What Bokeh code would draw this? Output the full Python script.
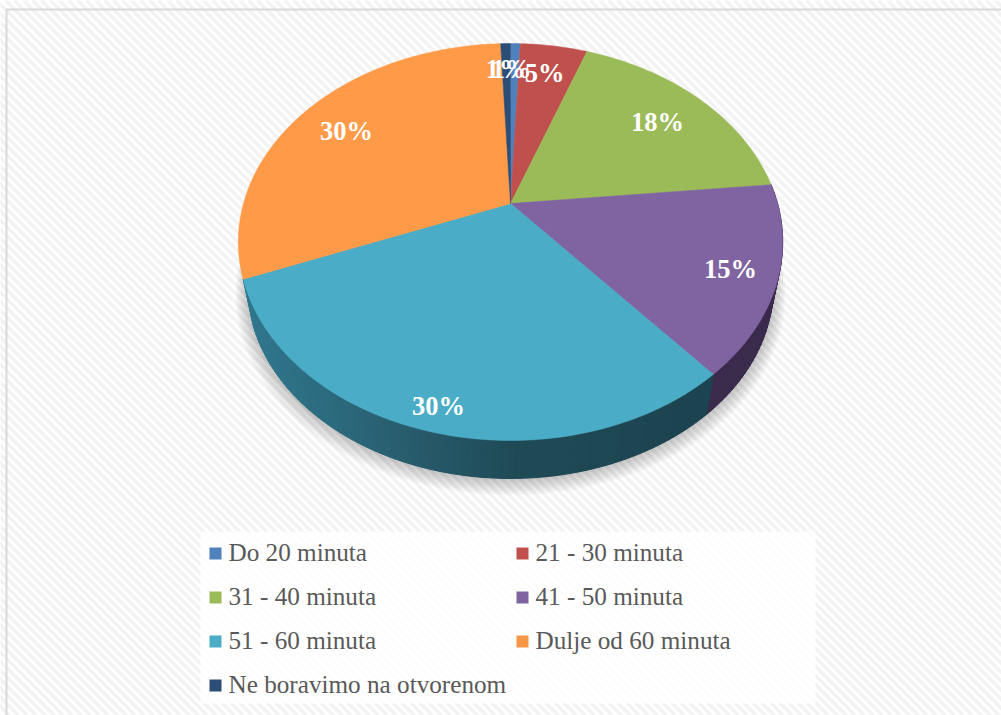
import numpy as np
from bokeh.plotting import figure
from bokeh.models import Range1d
from bokeh.core.properties import value
from bokeh.embed import file_html
from bokeh.resources import INLINE

# ---- data (clockwise from 12 o'clock)
categories = ["Do 20 minuta", "21 - 30 minuta", "31 - 40 minuta", "41 - 50 minuta",
              "51 - 60 minuta", "Dulje od 60 minuta", "Ne boravimo na otvorenom"]
shares = [0.7, 4.8, 17.9, 15.4, 30.2, 30.3, 0.7]
slice_colors = ["#4F81BD", "#C0504D", "#9BBB59", "#8064A2", "#4AACC6", "#FF9B48", "#2C4D75"]
swatch_colors = ["#4F81BD", "#C0504D", "#9BBB59", "#8064A2", "#4BACC6", "#F79646", "#2C4D75"]
labels = ["1%", "5%", "18%", "15%", "30%", "30%", "1%"]
label_x = [511, 544, 657, 730, 438, 346, 505]
label_y = [68, 72, 121, 268, 405, 130, 68]

X0, Y0, W, H = 0, 0, 1001, 715
FONT = "Liberation Serif"

# ---- perspective view of the pie disc
CX, CY, A, B, K = 510.0, 203.0, 267.0, 191.0, 0.194

def top(theta, r=1.0):
    x, y = r * np.sin(theta), r * np.cos(theta)
    d = 1 + K * y
    return CX + A * x / d, CY - B * y / d

def bottom(theta, r=1.0, grow=0.0, dy=0.0):
    px, py = top(theta, r)
    return CX + (px - CX) * (0.965 + grow), CY + (py - CY) * (0.965 + grow) + 46.3 + dy

p = figure(width=W, height=H, output_backend="svg", toolbar_location=None,
           x_range=Range1d(X0, X0 + W), y_range=Range1d(Y0 + H, Y0), min_border=0,
           x_axis_type=None, y_axis_type=None, outline_line_color=None,
           background_fill_color="#FFFFFF")
p.grid.visible = False

# ---- striped chart-area background
xr = X0 + W
yb = Y0 + H
off = np.arange(X0 - H, xr + H, 9.0)
p.segment(off, np.full_like(off, Y0), off + H, np.full_like(off, yb),
          line_color="#F3F3F3", line_width=3.5)

# ---- frame
p.line([xr, 6, 6], [9, 9, yb], line_color="#D9D9D9", line_width=2)

# ---- legend panel
p.quad(left=[200], right=[815], top=[531], bottom=[703], fill_color="#FFFFFF",
       fill_alpha=0.8, line_color=None)

# ---- soft shadow
t = np.linspace(0, 2 * np.pi, 240)
for g, dy in zip(np.linspace(0.045, 0.0, 8), np.linspace(6, 0, 8)):
    sx, sy = bottom(t, grow=g, dy=dy)
    p.patch(sx, sy, fill_color="#000000", fill_alpha=0.03, line_color=None)

# ---- pie wall (only the two slices facing the viewer show a side)
edges = np.cumsum([0] + shares) / sum(shares) * 2 * np.pi
stops_x = [250, 330, 420, 510, 700]
teal = np.array([[0x30, 0x76, 0x8C], [0x2C, 0x6A, 0x7E], [0x27, 0x5A, 0x6A],
                 [0x1F, 0x4B, 0x57], [0x1C, 0x44, 0x50]])
for i in (3, 4):
    n = int(shares[i] * 3)
    th = np.linspace(edges[i], edges[i + 1], n + 1)
    for j in range(n):
        a, b = th[j], th[j + 1]
        ax, ay = top(a); bx, by = top(b)
        cx, cy = bottom(b); dx, dy_ = bottom(a)
        if i == 4:
            mid = (ax + bx) / 2
            col = [int(np.interp(mid, stops_x, teal[:, c])) for c in range(3)]
            color = "#%02X%02X%02X" % tuple(col)
        else:
            color = "#3A2A4C"
        p.patch([ax, bx, cx, dx], [ay, by, cy, dy_], fill_color=color, line_color=color, line_width=1)

# ---- pie top
for i in range(len(shares)):
    n = max(3, int(shares[i] * 4))
    th = np.linspace(edges[i], edges[i + 1], n + 1)
    ax, ay = top(th)
    p.patch(np.r_[CX, ax], np.r_[CY, ay], fill_color=slice_colors[i],
            line_color=slice_colors[i], line_width=0.5)

# ---- data labels
p.text(label_x, label_y, text=labels, text_color="#FFFFFF", text_font=value(FONT),
       text_font_style="bold", text_font_size="26.5px", text_align="center", text_baseline="middle")

# ---- legend
col_x = [209, 516]
row_y = [553, 597, 641, 685]
sw_x = [col_x[i % 2] for i in range(len(categories))]
sw_y = [row_y[i // 2] for i in range(len(categories))]
p.rect(np.array(sw_x) + 6, sw_y, width=12, height=12, fill_color=swatch_colors, line_color=None)
p.text(np.array(sw_x) + 19, np.array(sw_y) - 1, text=categories, text_color="#595959",
       text_font=value(FONT), text_font_size="25.2px", text_align="left", text_baseline="middle")

open("out.html", "w").write(file_html(p, INLINE))
